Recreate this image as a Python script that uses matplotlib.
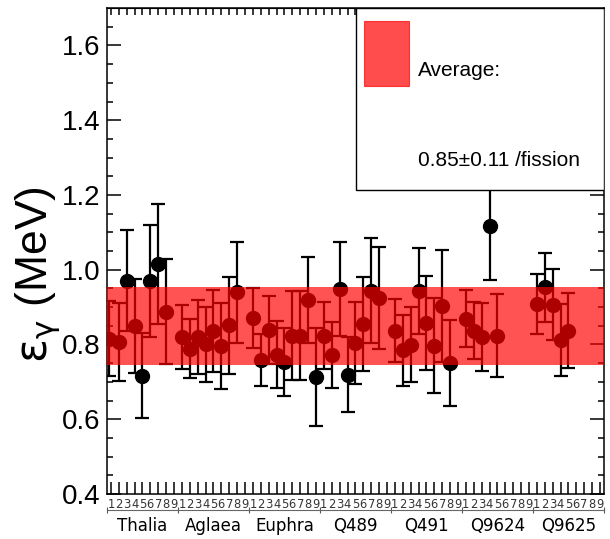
import numpy as np
import matplotlib
matplotlib.use('Agg')
import matplotlib.pyplot as plt
from matplotlib.patches import Rectangle

plt.rcParams['font.family'] = ['Liberation Sans', 'DejaVu Sans']

# data (bin position, energy, error)
x_pos = [0.25, 1.5, 2.5, 3.5, 4.5, 5.5, 6.5, 7.5,
         9.5, 10.5, 11.5, 12.5, 13.5, 14.5, 15.5, 16.5,
         18.5, 19.5, 20.5, 21.5, 22.5, 23.5, 24.5, 25.5, 26.5,
         27.5, 28.5, 29.5, 30.5, 31.5, 32.5, 33.5, 34.5,
         36.5, 37.5, 38.5, 39.5, 40.5, 41.5, 42.5, 43.5,
         45.5, 46.5, 47.5, 48.5, 49.5,
         54.5, 55.5, 56.5, 57.5, 58.5]
e_gamma = [0.815, 0.806, 0.971, 0.849, 0.717, 0.969, 1.015, 0.888,
           0.820, 0.789, 0.820, 0.800, 0.837, 0.797, 0.851, 0.940,
           0.870, 0.759, 0.839, 0.773, 0.753, 0.824, 0.824, 0.920, 0.713,
           0.824, 0.771, 0.948, 0.719, 0.804, 0.855, 0.944, 0.925,
           0.837, 0.784, 0.799, 0.944, 0.857, 0.797, 0.904, 0.750,
           0.869, 0.837, 0.820, 1.117, 0.824,
           0.908, 0.953, 0.906, 0.812, 0.837]
e_err = [0.100, 0.105, 0.135, 0.125, 0.115, 0.150, 0.160, 0.140,
         0.085, 0.080, 0.100, 0.100, 0.110, 0.115, 0.130, 0.135,
         0.080, 0.070, 0.090, 0.090, 0.090, 0.120, 0.120, 0.115, 0.130,
         0.090, 0.088, 0.125, 0.100, 0.110, 0.125, 0.140, 0.136,
         0.085, 0.096, 0.100, 0.115, 0.125, 0.127, 0.150, 0.115,
         0.076, 0.076, 0.090, 0.145, 0.110,
         0.080, 0.093, 0.095, 0.095, 0.100]

detectors = ['Thalia', 'Aglaea', 'Euphra', 'Q489', 'Q491', 'Q9624', 'Q9625']
n_runs = 9
avg = 0.85
avg_err = 0.105

n_bins = len(detectors) * n_runs

fig = plt.figure(figsize=(6.1, 5.39), dpi=100)
ax = fig.add_axes([0.1754, 0.0835, 0.8146, 0.9015])

ax.errorbar(x_pos, e_gamma, yerr=e_err, fmt='o', color='black', ms=10,
            elinewidth=1.6, capsize=5, capthick=1.6, zorder=2)
ax.axhspan(avg - avg_err, avg + avg_err, color='red', alpha=0.68, lw=0, zorder=3)

ax.set_xlim(0, n_bins)
ax.set_ylim(0.4, 1.7)

# x axis: one tick per run, labelled 1..9 inside each detector group
centers = np.arange(n_bins) + 0.5
ax.set_xticks(centers, labels=[str(i % n_runs + 1) for i in range(n_bins)])
ax.tick_params(axis='x', direction='in', length=9, width=1.1, labelsize=8.3, pad=3,
               labelcolor='#333333')
for lab in ax.get_xticklabels():
    lab.set_family('DejaVu Sans')

top = ax.secondary_xaxis('top')
top.set_xticks(centers, labels=[])
top.tick_params(direction='in', length=5, width=1.1)

grp = ax.secondary_xaxis(-0.033)
grp.set_xticks(np.arange(0, n_bins + 1, n_runs), labels=[])
grp.set_xticks(np.arange(len(detectors)) * n_runs + n_runs / 2, labels=detectors, minor=True)
grp.tick_params(which='major', direction='inout', length=4, width=0.8, color='#555555')
grp.tick_params(which='minor', length=0, labelsize=12, pad=5)
for lab in grp.get_xticklabels(minor=True):
    lab.set_family('DejaVu Sans')
grp.spines['bottom'].set_color('#666666')
grp.spines['bottom'].set_linewidth(0.8)

# y axis
ax.set_yticks(np.arange(0.4, 1.61, 0.2))
ax.set_yticklabels(['%.1f' % v for v in np.arange(0.4, 1.61, 0.2)])
ax.set_yticks(np.arange(0.4, 1.7, 0.05), minor=True)
ax.tick_params(axis='y', which='major', direction='in', length=10, width=1.1,
               labelsize=20, left=True, right=True, pad=5)
ax.tick_params(axis='y', which='minor', direction='in', length=4.5, width=1.1,
               left=True, right=True)
for s in ax.spines.values():
    s.set_linewidth(1.1)

fig.text(38 / 610, 1 - 275 / 539, r'$\mathrm{\epsilon}_{\mathrm{\gamma}}$ (MeV)', rotation=90,
         ha='center', va='center', fontsize=32)

# legend box
ax.add_patch(Rectangle((0.501, 0.6255), 0.499, 0.3745, transform=ax.transAxes,
                       facecolor='white', edgecolor='black', lw=1.0, zorder=5))
ax.add_patch(Rectangle((0.517, 0.8395), 0.0905, 0.1337, transform=ax.transAxes,
                       facecolor='red', alpha=0.7, edgecolor='red', lw=0.8, zorder=6))
ax.text(0.626, 0.872, 'Average:', transform=ax.transAxes, fontsize=15,
        va='center', ha='left', zorder=7)
ax.text(0.626, 0.687, '0.85\u00b10.11 /fission', transform=ax.transAxes, fontsize=15,
        va='center', ha='left', zorder=7)

plt.savefig('out.png', dpi=100)
